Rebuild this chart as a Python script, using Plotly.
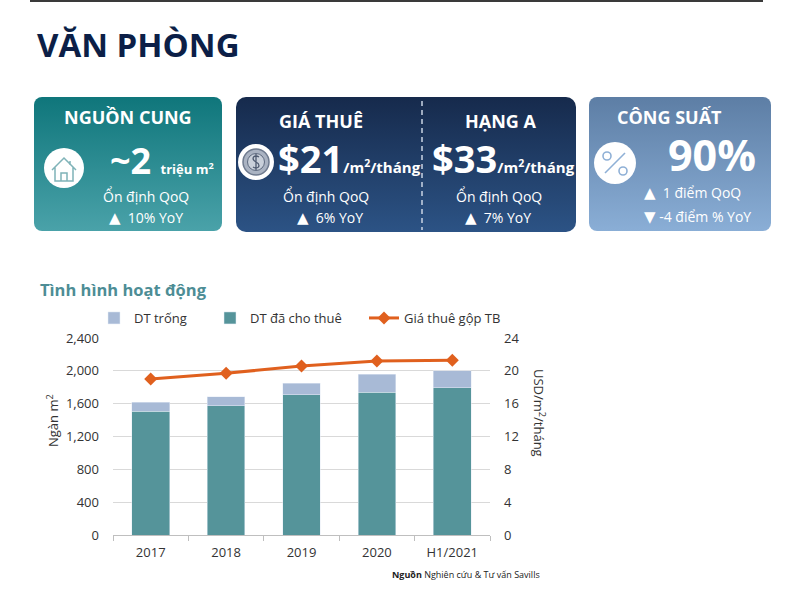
import base64
import plotly.graph_objects as go

# data
years = ["2017", "2018", "2019", "2020", "H1/2021"]
leased = [1510, 1575, 1710, 1742, 1795]      # DT đã cho thuê (ngàn m2)
vacant = [110, 110, 140, 215, 205]           # DT trống (ngàn m2)
rent = [19.0, 19.7, 20.6, 21.2, 21.3]        # Giá thuê gộp TB (USD/m2/tháng)

W, H = 791, 611
FONT = "Open Sans"

# background artwork (cards, icons) as one svg the size of the page
svg = f"""<svg xmlns='http://www.w3.org/2000/svg' width='{W}' height='{H}' viewBox='0 0 {W} {H}'>
<defs>
<linearGradient id='g1' x1='0' y1='0' x2='0' y2='1'><stop offset='0' stop-color='#0f767b'/><stop offset='1' stop-color='#4aa2a9'/></linearGradient>
<linearGradient id='g2' x1='0' y1='0' x2='0' y2='1'><stop offset='0' stop-color='#162a4c'/><stop offset='1' stop-color='#2c5385'/></linearGradient>
<linearGradient id='g3' x1='0' y1='0' x2='0' y2='1'><stop offset='0' stop-color='#5d7ea5'/><stop offset='1' stop-color='#8aaed6'/></linearGradient>
</defs>
<line x1='30' y1='1' x2='763' y2='1' stroke='#3a3a3a' stroke-width='2'/>
<rect x='34' y='97' width='188' height='134' rx='8' fill='url(#g1)'/>
<rect x='236' y='97' width='340' height='135' rx='10' fill='url(#g2)'/>
<rect x='589' y='97' width='182' height='134' rx='8' fill='url(#g3)'/>
<line x1='422' y1='101' x2='422' y2='230' stroke='#c9d3e3' stroke-width='1.5' stroke-dasharray='5,4'/>
<circle cx='64' cy='168' r='20' fill='#ffffff'/>
<path d='M52 170 L64 158 L76 170 M55 167 L55 181 L73 181 L73 167 M61 181 L61 173 L67 173 L67 181 M70 161 L70 165' stroke='#7fb3b8' stroke-width='1.5' fill='none'/>
<circle cx='256' cy='162' r='18' fill='#ffffff'/>
<circle cx='256' cy='162' r='13' fill='#aab3c2' stroke='#6f7b8f' stroke-width='1.5'/>
<circle cx='256' cy='162' r='8.5' fill='#c9d0da' stroke='#5f6b80' stroke-width='1'/>
<path d='M259 157 Q256 155 253.5 157 Q252 160 256 162 Q260 164 258.5 167 Q256 169 253 167 M256 154 L256 170' stroke='#4e5a70' stroke-width='1.3' fill='none'/>
<circle cx='615' cy='163' r='21' fill='#ffffff'/>
<circle cx='607' cy='156' r='4' fill='none' stroke='#8fb0d6' stroke-width='1.6'/>
<circle cx='623' cy='171' r='4' fill='none' stroke='#8fb0d6' stroke-width='1.6'/>
<line x1='605' y1='173' x2='625' y2='153' stroke='#8fb0d6' stroke-width='1.6'/>
</svg>"""
bg = "data:image/svg+xml;base64," + base64.b64encode(svg.encode("utf-8")).decode()

fig = go.Figure()
fig.add_bar(x=years, y=leased, name="DT đã cho thuê", marker_color="#55949a",
            legend="legend2")
fig.add_bar(x=years, y=vacant, name="DT trống", marker_color="#a8bad6",
            legend="legend")
fig.add_scatter(x=years, y=rent, name="Giá thuê gộp TB", yaxis="y2",
                mode="lines+markers", line=dict(color="#e0601e", width=3),
                marker=dict(symbol="diamond", size=10, color="#e0601e"),
                legend="legend3")


def px_x(x):
    return x / W


def px_y(y):
    return 1 - y / H


def note(x, y, text, size=14, color="white", xanchor="center", bold=False, angle=0):
    if bold:
        text = "<b>" + text + "</b>"
    return dict(x=px_x(x), y=px_y(y), xref="paper", yref="paper", text=text,
                showarrow=False, xanchor=xanchor, yanchor="middle", textangle=angle,
                font=dict(size=size, color=color, family=FONT))


def legend_at(x):
    return dict(orientation="h", x=px_x(x), y=px_y(318), xanchor="left",
                yanchor="middle", font=dict(size=13, color="#333"),
                itemwidth=30, bgcolor="rgba(0,0,0,0)")


unit = "<span style='font-size:15px'><b>/m<sup>2</sup>/tháng</b></span>"
tri = "<span style='font-family:DejaVu Sans;font-size:15px'>%s</span>"
up = tri % "▲" + "&nbsp;&nbsp;"
down = tri % "▼" + "&nbsp;"
ann = [
    note(35, 44, "VĂN PHÒNG", size=33, color="#0c1f47", xanchor="left", bold=True),
    # card 1
    note(128, 117, "NGUỒN CUNG", size=18, bold=True),
    note(162, 160, "<b>~2</b> <span style='font-size:13px'><b>triệu m<sup>2</sup></b></span>",
         size=36),
    note(146, 196, "Ổn định QoQ", size=14),
    note(146, 218, up + "10% YoY", size=14),
    # card 2
    note(321, 121, "GIÁ THUÊ", size=18, bold=True),
    note(349, 158, "<b>$21</b>" + unit, size=38),
    note(326, 196, "Ổn định QoQ", size=14),
    note(330, 218, up + "6% YoY", size=14),
    note(501, 121, "HẠNG A", size=18, bold=True),
    note(503, 158, "<b>$33</b>" + unit, size=38),
    note(499, 196, "Ổn định QoQ", size=14),
    note(498, 218, up + "7% YoY", size=14),
    # card 3
    note(669, 117, "CÔNG SUẤT", size=18, bold=True),
    note(712, 154, "90%", size=43, bold=True),
    note(692, 192, up + "1 điểm QoQ", size=14),
    note(697, 216, down + "-4 điểm % YoY", size=14),
    # chart
    note(38, 289, "Tình hình hoạt động", size=16.5, color="#4d8d95", xanchor="left", bold=True),
    note(52, 420, "Ngàn m<sup>2</sup>", size=13, color="#333", angle=-90),
    note(540, 413, "USD/m<sup>2</sup>/tháng", size=13, color="#333", angle=90),
    note(542, 574, "<b>Nguồn</b> Nghiên cứu & Tư vấn Savills", size=9, color="#222",
         xanchor="right"),
]

fig.update_layout(
    width=W, height=H,
    margin=dict(l=0, r=0, t=0, b=0, autoexpand=False),
    paper_bgcolor="white", plot_bgcolor="white",
    font=dict(family=FONT, size=13, color="#333333"),
    barmode="stack", bargap=0.5,
    showlegend=True,
    legend=legend_at(94),
    legend2=legend_at(210),
    legend3=legend_at(364),
    xaxis=dict(domain=[px_x(113), px_x(490)], showline=True, linecolor="#bfbfbf",
               ticks="outside", tickson="boundaries", ticklen=5, tickcolor="#bfbfbf",
               ticklabelstandoff=5,
               showgrid=False, tickfont=dict(size=13, color="#333")),
    yaxis=dict(domain=[px_y(535), px_y(338)], range=[0, 2400], dtick=400,
               tickformat=",", gridcolor="#d9d9d9", zeroline=False,
               ticklabelstandoff=13),
    yaxis2=dict(overlaying="y", side="right", range=[0, 24], dtick=4,
                showgrid=False, zeroline=False, ticklabelstandoff=13),
    annotations=ann,
    images=[dict(source=bg, xref="paper", yref="paper", x=0, y=1, sizex=1, sizey=1,
                 xanchor="left", yanchor="top", sizing="stretch", layer="below")],
)

fig.write_html("out.html", config={"displayModeBar": False},
               post_script="document.body.style.margin='0';")
